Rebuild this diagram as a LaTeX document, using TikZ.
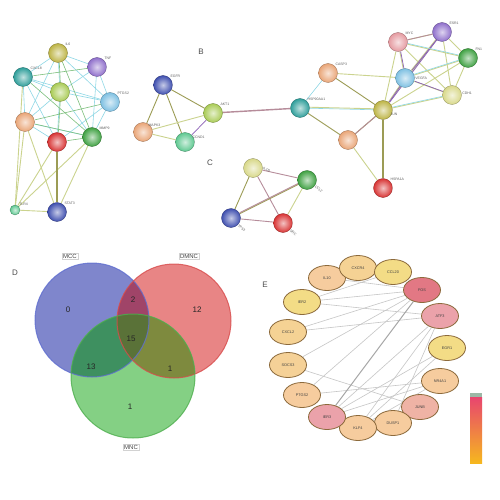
\documentclass[tikz,border=0pt]{standalone}
\usepackage{fontspec}
\setmainfont{Liberation Sans}
\usetikzlibrary{shapes.geometric,backgrounds}
\definecolor{cOlive}{HTML}{BDB445}
\definecolor{cPurple}{HTML}{8F6FCB}
\definecolor{cTeal}{HTML}{2E9E9A}
\definecolor{cYG}{HTML}{A9CB55}
\definecolor{cLBlue}{HTML}{7EC0E2}
\definecolor{cPeach}{HTML}{E9A577}
\definecolor{cRed}{HTML}{D83434}
\definecolor{cGreen}{HTML}{3FA142}
\definecolor{cMint}{HTML}{5EC890}
\definecolor{cBlue}{HTML}{3F4FAF}
\definecolor{cPink}{HTML}{E59AA0}
\definecolor{cPaleY}{HTML}{D8D889}
\definecolor{eTM}{HTML}{CBD38E}
\definecolor{eCy}{HTML}{8FD8E6}
\definecolor{eGr}{HTML}{7CBF7C}
\definecolor{ePu}{HTML}{8A5FB5}
\definecolor{eMa}{HTML}{B68C9A}
\definecolor{eOl}{HTML}{9C9C55}
\definecolor{vB}{HTML}{7F86CC}
\definecolor{vR}{HTML}{E88585}
\definecolor{vG}{HTML}{84D084}
\definecolor{vBR}{HTML}{A04468}
\definecolor{vBG}{HTML}{3E9060}
\definecolor{vRG}{HTML}{7E8A3E}
\definecolor{vBRG}{HTML}{5A7238}
\definecolor{vBe}{HTML}{5F6ED0}
\definecolor{vRe}{HTML}{D84C4C}
\definecolor{vGe}{HTML}{4EAE4E}
\definecolor{kY}{HTML}{F3DC86}
\definecolor{kPe}{HTML}{F6CC9E}
\definecolor{kPi}{HTML}{EBA2AA}
\definecolor{kRd}{HTML}{E27884}
\definecolor{kBr}{HTML}{8C6A3C}
\definecolor{barTop}{HTML}{E8466E}
\definecolor{barBot}{HTML}{F6B81E}
\definecolor{barCap}{HTML}{9CB8A6}
\begin{document}
\begin{tikzpicture}[x=1pt,y=-1pt,
  sn/.style={circle, minimum size=19pt, inner sep=0pt, draw=#1!65!black, line width=0.3pt, inner color=#1!30!white, outer color=#1},
  glab/.style={font=\fontsize{3.5}{4}\selectfont, text=gray!75!black, inner sep=0.5pt},
  etm/.style={draw=eTM, line width=0.9pt},
  ecy/.style={draw=eCy, line width=0.6pt},
  egr/.style={draw=eGr, line width=0.6pt},
  epu/.style={draw=ePu, line width=0.7pt},
  ema/.style={draw=eMa, line width=0.9pt},
  eol/.style={draw=eOl, line width=0.9pt},
  panel/.style={font=\fontsize{8}{9}\selectfont, text=gray!60!black},
  vset/.style={circle, minimum size=#1, inner sep=0pt, draw opacity=0.8, line width=1pt},
  vnum/.style={font=\fontsize{8}{9}\selectfont, text=black!85},
  vlab/.style={font=\fontsize{6}{7}\selectfont, text=black!75, fill=white, fill opacity=0.6, text opacity=1, draw=gray!35, draw opacity=1, line width=0.3pt, inner sep=1pt},
  hub/.style={ellipse, minimum width=37pt, minimum height=25pt, inner sep=0pt, draw=kBr, line width=0.8pt, fill=#1, font=\fontsize{3.8}{4}\selectfont, text=black!75},
  hedge/.style={draw=gray!45, line width=0.6pt}
]
\useasboundingbox (0,0) rectangle (500,500);

% ---------------- Panel A ----------------
\node[sn=cOlive] (a1) at (58,53) {};
\node[sn=cPurple] (a2) at (97,67) {};
\node[sn=cTeal] (a3) at (23,77) {};
\node[sn=cYG] (a4) at (60,92) {};
\node[sn=cLBlue] (a5) at (110,102) {};
\node[sn=cPeach] (a6) at (25,122) {};
\node[sn=cRed] (a7) at (57,142) {};
\node[sn=cGreen] (a8) at (92,137) {};
\node[sn=cMint, minimum size=10pt] (a9) at (15,210) {};
\node[sn=cBlue] (a10) at (57,212) {};
\node[glab, anchor=south west] at (a1.north east) {IL6};
\node[glab, anchor=south west] at (a2.north east) {TNF};
\node[glab, anchor=south west] at (a3.north east) {CXCL8};
\node[glab, anchor=south west] at (a5.north east) {PTGS2};
\node[glab, anchor=south west] at (a8.north east) {MMP9};
\node[glab, anchor=south west] at (a9.north east) {TLR4};
\node[glab, anchor=south west] at (a10.north east) {STAT3};

% ---------------- Panel B ----------------
\node[panel] (lb) at (201,52) {B};
\node[sn=cBlue] (b1) at (163,85) {};
\node[sn=cYG] (b2) at (213,113) {};
\node[sn=cPeach] (b3) at (143,132) {};
\node[sn=cMint] (b4) at (185,142) {};
\node[sn=cTeal] (b5) at (300,108) {};
\node[sn=cPeach] (b6) at (328,73) {};
\node[sn=cOlive] (b7) at (383,110) {};
\node[sn=cPeach] (b8) at (348,140) {};
\node[sn=cRed] (b9) at (383,188) {};
\node[sn=cPink] (b10) at (398,42) {};
\node[sn=cPurple] (b11) at (442,32) {};
\node[sn=cGreen] (b12) at (468,58) {};
\node[sn=cLBlue] (b13) at (405,78) {};
\node[sn=cPaleY] (b14) at (452,95) {};
\node[glab, anchor=south west] at (b1.north east) {EGFR};
\node[glab, anchor=south west] at (b2.north east) {AKT1};
\node[glab, anchor=west] at ([xshift=-2pt]b3.north east) {MAPK3};
\node[glab, anchor=west] at ([yshift=-2pt]b4.north east) {CCND1};
\node[glab, anchor=south west] at (b5.north east) {HSP90AA1};
\node[glab, anchor=south west] at (b6.north east) {CASP3};
\node[glab, anchor=west] at ([yshift=3pt]b7.south east) {JUN};
\node[glab, anchor=south west] at (b9.north east) {HSPA1A};
\node[glab, anchor=south west] at (b10.north east) {MYC};
\node[glab, anchor=south west] at (b11.north east) {ESR1};
\node[glab, anchor=south west] at (b12.north east) {FN1};
\node[glab, anchor=west] at (b13.east) {VEGFA};
\node[glab, anchor=south west] at (b14.east) {CDH1};

% ---------------- Panel C ----------------
\node[panel] (lc) at (210,163) {C};
\node[sn=cPaleY] (c1) at (253,168) {};
\node[sn=cGreen] (c2) at (307,180) {};
\node[sn=cBlue] (c3) at (231,218) {};
\node[sn=cRed] (c4) at (283,223) {};
\node[glab, anchor=west, rotate=-20] at (c1.east) {IL1B};
\node[glab, anchor=west, rotate=-40] at ([xshift=1pt,yshift=1pt]c2.south east) {CCL2};
\node[glab, anchor=west, rotate=-40] at (c3.south east) {TP53};
\node[glab, anchor=west, rotate=-40] at (c4.south east) {SRC};

% ---------------- Panel D (Venn) ----------------
\node[panel] (ld) at (15,273) {D};
\coordinate (pB) at (92,320);
\coordinate (pR) at (174,321);
\coordinate (pG) at (133,376);
\fill[vB] (pB) circle (57);
\fill[vR] (pR) circle (57);
\fill[vG] (pG) circle (62);
\begin{scope}
  \clip (pB) circle (57);
  \fill[vBR] (pR) circle (57);
  \fill[vBG] (pG) circle (62);
  \clip (pR) circle (57);
  \fill[vBRG] (pG) circle (62);
\end{scope}
\begin{scope}
  \clip (pR) circle (57);
  \begin{scope}[even odd rule]
    \clip (pB) circle (57) (0,0) rectangle (500,500);
    \fill[vRG] (pG) circle (62);
  \end{scope}
\end{scope}
\node[vset=114pt, draw=vBe] (mcc) at (pB) {};
\node[vset=114pt, draw=vRe] (dmnc) at (pR) {};
\node[vset=124pt, draw=vGe] (mnc) at (pG) {};
\node[vlab] (lmcc) at (70,256) {MCC};
\node[vlab] (ldmnc) at (189,256) {DMNC};
\node[vlab] (lmnc) at (131,447) {MNC};
\node[vnum] (n0) at (68,310) {0};
\node[vnum] (n2) at (133,300) {2};
\node[vnum] (n12) at (197,310) {12};
\node[vnum] (n15) at (131,339) {15};
\node[vnum] (n13) at (91,367) {13};
\node[vnum] (n1a) at (170,369) {1};
\node[vnum] (n1b) at (130,407) {1};

% ---------------- Panel E ----------------
\node[panel] (le) at (265,285) {E};
\node[hub=kPe] (h15) at (327,278) {IL10};
\node[hub=kPe!60!kY] (h1) at (358,268) {CXCR4};
\node[hub=kY] (h2) at (393,272) {CCL20};
\node[hub=kRd] (h3) at (422,290) {FOS};
\node[hub=kPi] (h4) at (440,316) {ATF3};
\node[hub=kY] (h5) at (447,348) {EGR1};
\node[hub=kPe] (h6) at (440,381) {NR4A1};
\node[hub=kPi!60!kPe] (h7) at (420,407) {JUNB};
\node[hub=kPe] (h8) at (393,423) {DUSP1};
\node[hub=kPe] (h9) at (358,428) {KLF4};
\node[hub=kPi] (h10) at (327,417) {IER3};
\node[hub=kPe] (h11) at (302,395) {PTGS2};
\node[hub=kPe!70!kY] (h12) at (288,365) {SOCS3};
\node[hub=kPe!60!kY] (h13) at (288,332) {CXCL2};
\node[hub=kY] (h14) at (302,302) {IER2};
\node[fill=barCap, minimum width=12pt, minimum height=4pt, inner sep=0pt] (capbar) at (476,395) {};
\node[minimum width=12pt, minimum height=66pt, inner sep=0pt, top color=barTop, bottom color=barBot, anchor=north] (cbar) at (capbar.south) {};

% ---------------- Edges (background) ----------------
\begin{scope}[on background layer]
\fill[white] (0,0) rectangle (500,500);
% A cluster
\foreach \u/\v in {a1/a2,a1/a3,a1/a4,a1/a5,a2/a4,a2/a5,a3/a4,a3/a6,a4/a5,a4/a6,a4/a7,a4/a8,a5/a8,a6/a7,a5/a7,a3/a5,a2/a8,a1/a6,a6/a8,a3/a7}
  \draw[ecy] (\u) -- (\v);
\foreach \u/\v in {a1/a4,a4/a7,a6/a8,a2/a3,a5/a6,a7/a8,a3/a8,a1/a8}
  \draw[egr, transform canvas={xshift=0.8pt}] (\u) -- (\v);
\foreach \u/\v in {a6/a9,a6/a10,a7/a9,a8/a9,a8/a10,a3/a9,a9/a10}
  \draw[etm] (\u) -- (\v);
\draw[eol, line width=1.8pt] (a7) -- (a10);
% B left
\draw[eol] (b1) -- (b3);
\draw[eol] (b1) -- (b4);
\draw[eol] (b1) -- (b2);
\draw[etm] (b3) -- (b4);
\draw[etm] (b3) -- (b2);
\draw[epu] (b4) -- (b2);
\draw[ema, line width=1.4pt] (b2) -- (b5);
% B right
\draw[ecy] (b5) -- (b6);
\draw[ecy] (b5) -- (b7);
\draw[etm, transform canvas={yshift=1pt}] (b5) -- (b7);
\draw[eol] (b5) -- (b8);
\draw[eol] (b6) -- (b7);
\draw[etm] (b6) -- (b13);
\draw[eol] (b8) -- (b7);
\draw[ema] (b8) -- (b7);
\draw[etm] (b8) -- (b9);
\draw[eol, line width=1.6pt] (b7) -- (b9);
\foreach \u/\v in {b7/b10,b7/b11,b7/b13,b7/b14,b7/b12,b10/b11,b10/b13,b10/b12,b11/b12,b11/b13,b13/b12,b13/b14,b12/b14,b11/b14,b10/b14}
  \draw[etm] (\u) -- (\v);
\foreach \u/\v in {b7/b11,b11/b13,b13/b14,b10/b13,b7/b13}
  \draw[epu, transform canvas={xshift=0.8pt}] (\u) -- (\v);
\foreach \u/\v in {b13/b12,b7/b14,b10/b12}
  \draw[ecy, transform canvas={yshift=0.8pt}] (\u) -- (\v);
\draw[ema] (b10) -- (b11);
% C
\draw[ema] (c1) -- (c2);
\draw[ema] (c1) -- (c4);
\draw[eol] (c1) -- (c3);
\draw[eol] (c3) -- (c2);
\draw[ema, transform canvas={yshift=1pt}] (c3) -- (c2);
\draw[etm] (c2) -- (c4);
\draw[ema] (c3) -- (c4);
% E
\foreach \u/\v in {h3/h14,h3/h13,h3/h12,h3/h15,h3/h11,h14/h4,h13/h4,h12/h7,h11/h6,h10/h4,h10/h5,h9/h5,h9/h4,h8/h4,h10/h6,h9/h6,h14/h2}
  \draw[hedge] (\u) -- (\v);
\draw[draw=gray!70, line width=1pt] (h3) -- (h10);
\end{scope}
\end{tikzpicture}
\end{document}
